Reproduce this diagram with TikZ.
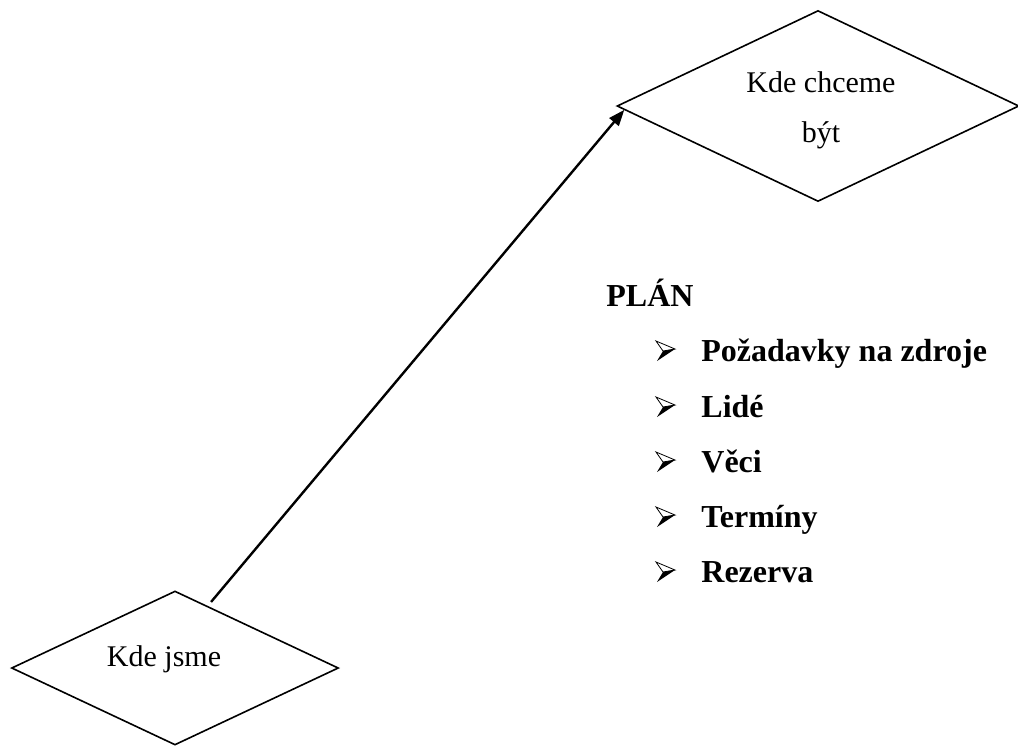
\documentclass[tikz,border=0pt]{standalone}
\usepackage{fontspec}
\setmainfont{Liberation Serif}
\usetikzlibrary{shapes.geometric,arrows.meta,calc}

\begin{document}
\begin{tikzpicture}[x=0.5pt,y=-0.5pt,
  place/.style={diamond,draw,line width=0.8pt,inner sep=0pt},
  lbl/.style={font=\fontsize{15}{18}\selectfont,inner sep=0pt,anchor=base},
  head/.style={font=\fontsize{16}{19}\selectfont\bfseries,inner sep=0pt,anchor=base west},
  link/.style={line width=1.2pt,-{Triangle[length=8pt,width=6pt]}},
  % 3-D arrowhead list marker: light upper facet, dark lower facet
  marker/.pic={
    \draw[line width=0.4pt,line join=miter] (1,-20) -- (20,-12) -- (8,-10) -- cycle;
    \fill (8,-10) -- (20,-12) -- (2,0) -- cycle;
  }]
  \useasboundingbox (0,0) rectangle (1018,746);

  % the two states
  \node[place,minimum width=201pt,minimum height=95.5pt] (goal) at (818,106) {};
  \node[place,minimum width=163.5pt,minimum height=77pt] (now) at (175,668) {};

  \node[lbl] (goal1) at (821,92) {Kde chceme};
  \node[lbl] (goal2) at (821,142) {být};
  \node[lbl] (now1) at (164,666) {Kde jsme};

  % the path from here to there
  \coordinate (from) at ($(now.north)!0.2!(now.east)$);
  \coordinate (to) at ($(goal.west)!0.04!(goal.south)$);
  \draw[link,shorten <=2.5pt] (from) -- (to);

  % the plan
  \node[head] (plan) at (606,306) {PLÁN};
  \foreach \y/\txt [count=\i] in {361/Požadavky na zdroje,417/Lidé,472/Věci,527/Termíny,582/Rezerva}{
    \pic at (655,\y) {marker};
    \node[head] (item\i) at (701,\y) {\txt};
  }
\end{tikzpicture}
\end{document}
